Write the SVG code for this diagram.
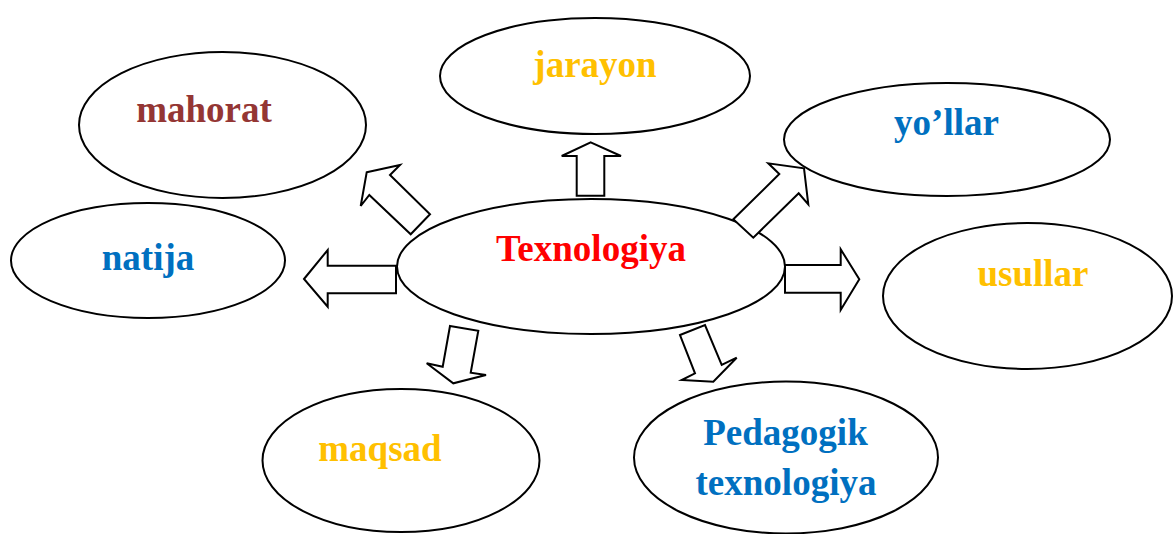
<svg xmlns="http://www.w3.org/2000/svg" width="1173" height="534" viewBox="0 0 1173 534">
<style>
.n{fill:#fff;stroke:#000;stroke-width:2}
.a{fill:#fff;stroke:#000;stroke-width:2;stroke-linejoin:miter}
text{font-family:"Liberation Serif","Times New Roman",serif;font-weight:bold;font-size:37px;text-anchor:middle}
.br{fill:#943634}.yl{fill:#FFC000}.bl{fill:#0070C0}.rd{fill:#FF0000}
</style>
<rect width="1173" height="534" fill="#fff"/>
<g id="mahorat"><ellipse class="n" cx="222.5" cy="125" rx="143.5" ry="73"/><text class="br" x="204" y="122">mahorat</text></g>
<g id="jarayon"><ellipse class="n" cx="595" cy="76" rx="155" ry="58"/><text class="yl" x="595" y="77">jarayon</text></g>
<g id="yollar"><ellipse class="n" cx="947" cy="139.5" rx="163" ry="56.5"/><text class="bl" x="946.5" y="135">yo’llar</text></g>
<g id="natija"><ellipse class="n" cx="148" cy="260.5" rx="137" ry="57.5"/><text class="bl" x="148" y="270">natija</text></g>
<g id="usullar"><ellipse class="n" cx="1027.5" cy="296" rx="144.5" ry="73"/><text class="yl" x="1033" y="286">usullar</text></g>
<g id="maqsad"><ellipse class="n" cx="401" cy="460.5" rx="138.5" ry="71.5"/><text class="yl" x="380" y="461">maqsad</text></g>
<g id="pedagogik"><ellipse class="n" cx="786" cy="457.5" rx="152" ry="76"/><text class="bl" x="785.5" y="445">Pedagogik</text><text class="bl" x="786" y="495">texnologiya</text></g>
<g id="texnologiya"><ellipse class="n" cx="591" cy="266.5" rx="194" ry="67.5"/><text class="rd" x="591" y="261">Texnologiya</text></g>
<g id="connectors">
<polygon class="a" points="366.7,172.3 400,165 390,175 430,214.3 410.7,234.3 369.3,195 360.7,206"/>
<polygon class="a" points="304,279 327.7,250 327.7,265.7 396,265.7 396,293.3 327.7,293.3 327.7,306.7"/>
<polygon class="a" points="590.7,142.3 621,156 604.3,156 604.3,195.7 576.7,195.7 576.7,156 561.7,156"/>
<polygon class="a" points="804,168.3 808.3,204.3 798.7,193.3 753.3,237.7 733.3,219.3 779.3,174 768.3,163.3"/>
<polygon class="a" points="859.3,279.3 840.7,310 840.7,292.7 785,292.7 785,265 840.7,265 840.7,249.3"/>
<polygon class="a" points="450,326 478.3,330.7 470.7,372.7 486,375 453.3,383.3 426.7,363.3 442.7,366.7"/>
<polygon class="a" points="680,335 705,325 721.7,365 736.7,357.7 713.3,381.7 681.7,380 695,373.3"/>
</g>
</svg>
